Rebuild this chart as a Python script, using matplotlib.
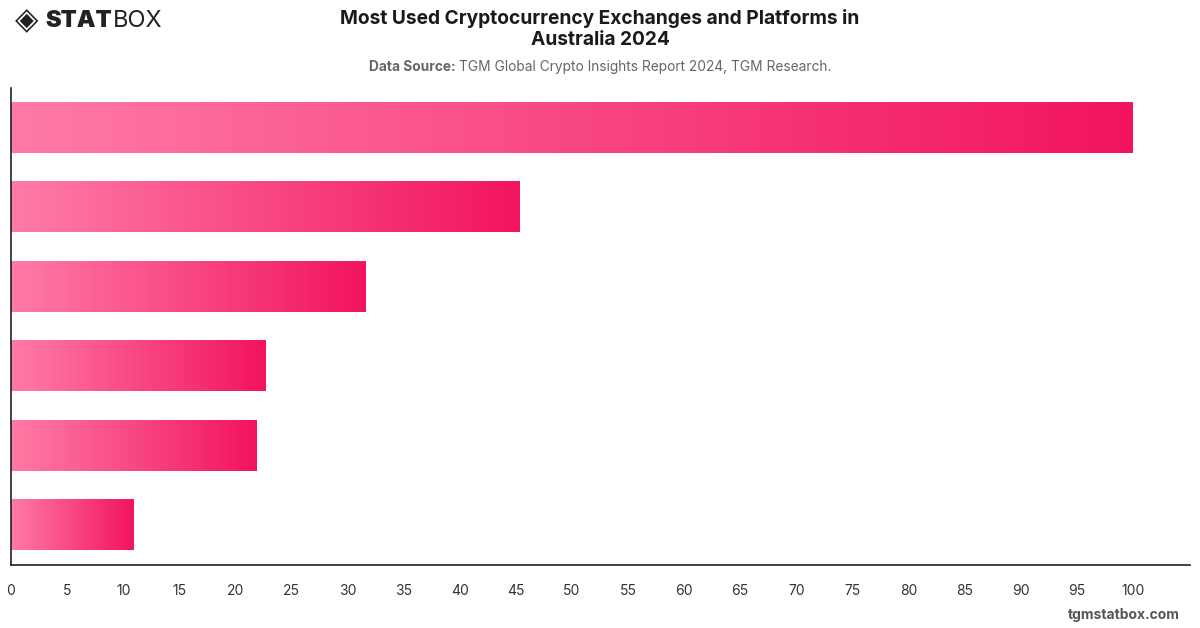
import numpy as np
import matplotlib.pyplot as plt
from matplotlib.colors import LinearSegmentedColormap

# values (top to bottom), category labels are not shown
values = [100, 45.3, 31.6, 22.7, 21.9, 10.9]
xticks = list(range(0, 101, 5))

title = "Most Used Cryptocurrency Exchanges and Platforms in\nAustralia 2024"
source = "TGM Global Crypto Insights Report 2024, TGM Research."

plt.rcParams["font.family"] = ["Inter", "DejaVu Sans"]

fig = plt.figure(figsize=(12, 6.28), dpi=100)
ax = fig.add_axes([11 / 1200, 63 / 628, 1179 / 1200, 477 / 628])

cmap = LinearSegmentedColormap.from_list("pinks", ["#ff7ba5", "#f2145f"])
grad = np.linspace(0, 1, 256).reshape(1, -1)

n = len(values)
h = 0.63
for i, v in enumerate(values):
    y = n - 1 - i
    ax.imshow(grad, cmap=cmap, aspect="auto",
              extent=[0, v, y - h / 2, y + h / 2], zorder=2)

ax.set_xlim(0, 105.1)
ax.set_ylim(-0.504, n - 0.496)
ax.set_xticks(xticks)
ax.set_xticklabels([str(t) for t in xticks], color="#333333", fontsize=10)
ax.set_yticks([])
ax.tick_params(axis="x", length=0, pad=14)
for s in ["top", "right"]:
    ax.spines[s].set_visible(False)
for s in ["left", "bottom"]:
    ax.spines[s].set_color("#222222")
    ax.spines[s].set_linewidth(1.2)

fig.text(0.5, 1 - 29 / 628, title, ha="center", va="center",
         fontsize=13.8, fontweight="bold", color="#1a1a1a", linespacing=1.25)

# source line: bold label followed by normal text, centred together
r = fig.canvas.get_renderer()
fs_src = 9.9
tb = fig.text(0, 0, "Data Source: ", fontsize=fs_src, fontweight="bold")
tn = fig.text(0, 0, source, fontsize=fs_src)
wb = tb.get_window_extent(r).width
wn = tn.get_window_extent(r).width
tb.remove()
tn.remove()
x0 = (1200 - wb - wn) / 2 / 1200
fig.text(x0, 1 - 67 / 628, "Data Source: ", ha="left", va="center",
         fontsize=fs_src, fontweight="bold", color="#666666")
fig.text(x0 + wb / 1200, 1 - 67 / 628, source, ha="left", va="center",
         fontsize=fs_src, color="#666666")

# logo
fig.text(15 / 1200, 1 - 21 / 628, "\u25C8", ha="left", va="center",
         fontsize=22, color="#222222", family="DejaVu Sans")
ts = fig.text(45 / 1200, 1 - 21 / 628, "STAT", ha="left", va="center",
              fontsize=17, fontweight="black", color="#222222")
ws = ts.get_window_extent(r).width
fig.text((45 + ws + 1) / 1200, 1 - 21 / 628, "BOX", ha="left", va="center",
         fontsize=17, color="#222222")

fig.text(1180 / 1200, 1 - 615 / 628, "tgmstatbox.com", ha="right", va="center",
         fontsize=10, fontweight="bold", color="#555555")

fig.savefig("out.png", dpi=100)
